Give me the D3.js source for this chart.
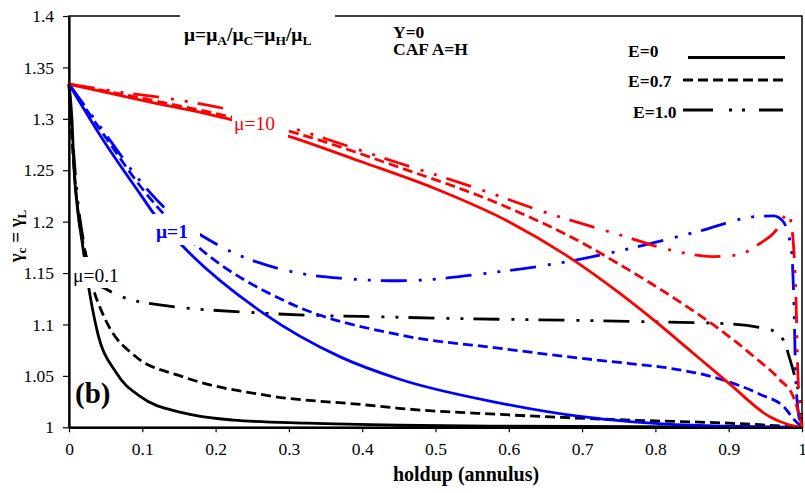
<!DOCTYPE html>
<html>
<head>
<meta charset="utf-8">
<script src="https://cdn.jsdelivr.net/npm/d3@7"></script>
<style>
  body { margin: 0; background: #fff; }
  text { font-family: "Liberation Serif", "Times New Roman", serif; }
</style>
</head>
<body>
<svg id="chart" width="805" height="493"></svg>
<script>
// tick values for both axes
var xTicks = [0, 0.1, 0.2, 0.3, 0.4, 0.5, 0.6, 0.7, 0.8, 0.9, 1];
var yTicks = [1, 1.05, 1.1, 1.15, 1.2, 1.25, 1.3, 1.35, 1.4];

// mu = 0.1 (black) as [holdup, gamma]
var mu01_E0 = [[0,1.3337],[0.004,1.30],[0.007,1.25],[0.012,1.21],[0.018,1.18],[0.026,1.14],[0.038,1.095],[0.065,1.0525],[0.097,1.030],[0.156,1.014],[0.224,1.007],[0.325,1.004],[0.45,1.002],[0.6,1.001],[1,1.0]];
var mu01_E07 = [[0,1.3337],[0.006,1.26],[0.014,1.20],[0.024,1.165],[0.033,1.1355],[0.045,1.112],[0.056,1.096],[0.088,1.0705],[0.156,1.049],[0.27,1.031],[0.406,1.0217],[0.45,1.0185],[0.588,1.0125],[0.765,1.007],[0.9,1.004],[1,1.0]];
var mu01_E10 = [[0,1.3337],[0.005,1.28],[0.012,1.22],[0.02,1.18],[0.03,1.145],[0.053,1.1335],[0.097,1.122],[0.265,1.111],[0.45,1.107],[0.765,1.103],[0.888,1.101],[0.956,1.095],[0.9745,1.085],[0.9836,1.066],[0.99,1.05],[0.995,1.035],[0.998,1.02],[1,1.0]];

// mu = 1 (blue)
var mu1_E0 = [[0,1.3337],[0.047,1.279],[0.097,1.227],[0.117,1.2065],[0.156,1.1755],[0.265,1.111],[0.37,1.0685],[0.45,1.047],[0.588,1.0236],[0.70,1.0103],[0.765,1.0055],[0.85,1.002],[1,1.0]];
var mu1_E07 = [[0,1.3337],[0.05,1.282],[0.1,1.232],[0.126,1.21],[0.176,1.1755],[0.30,1.121],[0.45,1.09],[0.588,1.0768],[0.70,1.067],[0.765,1.062],[0.82,1.0574],[0.888,1.047],[0.943,1.032],[0.975,1.02],[0.99,1.007],[1,1.0]];
var mu1_E10 = [[0,1.3337],[0.05,1.285],[0.1,1.237],[0.131,1.213],[0.199,1.179],[0.306,1.151],[0.37,1.145],[0.45,1.1425],[0.588,1.1514],[0.679,1.161],[0.7476,1.171],[0.856,1.19],[0.938,1.205],[0.961,1.2056],[0.9745,1.20],[0.981,1.188],[0.986,1.17],[0.989,1.12],[0.991,1.06],[0.994,1.02],[1,1.0]];

// mu = 10 (red)
var mu10_E0 = [[0,1.3337],[0.1,1.318],[0.222,1.299],[0.3,1.283],[0.4,1.258],[0.5,1.232],[0.6,1.200],[0.679,1.167],[0.752,1.13],[0.80,1.103],[0.85,1.073],[0.9,1.043],[0.956,1.0103],[0.98,1.003],[1,1.0]];
var mu10_E07 = [[0,1.3337],[0.1,1.32],[0.22,1.302],[0.3,1.288],[0.45,1.253],[0.588,1.217],[0.701,1.179],[0.752,1.158],[0.829,1.124],[0.888,1.095],[0.934,1.069],[0.97,1.046],[0.988,1.03],[0.995,1.015],[1,1.0]];
var mu10_E10 = [[0,1.3337],[0.065,1.3265],[0.151,1.318],[0.22,1.3087],[0.3,1.292],[0.45,1.257],[0.55,1.234],[0.65,1.209],[0.752,1.187],[0.82,1.1725],[0.879,1.166],[0.911,1.1676],[0.943,1.179],[0.965,1.192],[0.976,1.205],[0.981,1.208],[0.986,1.195],[0.989,1.17],[0.992,1.12],[0.994,1.06],[0.997,1.02],[1,1.0]];

var series = [
  {data: mu01_E0, mu: "0.1", e: "E0"}, {data: mu01_E07, mu: "0.1", e: "E07"}, {data: mu01_E10, mu: "0.1", e: "E10"},
  {data: mu1_E0, mu: "1", e: "E0"}, {data: mu1_E07, mu: "1", e: "E07"}, {data: mu1_E10, mu: "1", e: "E10"},
  {data: mu10_E0, mu: "10", e: "E0"}, {data: mu10_E07, mu: "10", e: "E07"}, {data: mu10_E10, mu: "10", e: "E10"}
];

var colors = {"0.1": "#000000", "1": "#0000ff", "10": "#ff0000"};
var dashes = {"E0": null, "E07": "10,5", "E10": "26,12,3,11,3,10"};

drawChart();

function drawChart() {
  var svg = d3.select("#chart");
  var plotLeft = 69, plotRight = 802, plotTop = 16, plotBottom = 427.3;

  var x = d3.scaleLinear().domain([0, 1]).range([plotLeft, plotRight]);
  var y = d3.scaleLinear().domain([1, 1.4]).range([plotBottom, plotTop]);

  // frame
  svg.append("rect")
     .attr("x", plotLeft).attr("y", plotTop)
     .attr("width", plotRight - plotLeft).attr("height", plotBottom - plotTop)
     .attr("fill", "none").attr("stroke", "#000").attr("stroke-width", 1.5);

  // curves
  var line = d3.line()
               .x(function(d) { return x(d[0]); })
               .y(function(d) { return y(d[1]); })
               .curve(d3.curveMonotoneX);

  svg.append("g")
     .selectAll("path")
     .data(series)
     .enter()
     .append("path")
     .attr("d", function(d) { return line(d.data); })
     .attr("fill", "none")
     .attr("stroke", function(d) { return colors[d.mu]; })
     .attr("stroke-width", 2.8)
     .attr("stroke-dasharray", function(d) { return dashes[d.e]; });

  // axes
  var xAxis = svg.append("g")
     .attr("transform", "translate(0," + plotBottom + ")")
     .call(d3.axisBottom(x).tickValues(xTicks).tickFormat(d3.format("~g"))
             .tickSizeInner(5).tickSizeOuter(0).tickPadding(10));
  var yAxis = svg.append("g")
     .attr("transform", "translate(" + plotLeft + ",0)")
     .call(d3.axisLeft(y).tickValues(yTicks).tickFormat(d3.format("~g"))
             .tickSizeInner(6).tickSizeOuter(0).tickPadding(9));

  [xAxis, yAxis].forEach(function(a) {
    a.select(".domain").attr("stroke", "#000").attr("stroke-width", 2.2);
    a.selectAll(".tick line").attr("stroke", "#000").attr("stroke-width", 1.2);
    a.selectAll(".tick text")
     .style("font-family", "'Liberation Serif', 'Times New Roman', serif")
     .style("font-size", "17.5px").attr("fill", "#000");
  });

  // axis titles
  svg.append("text")
     .attr("x", 466).attr("y", 481)
     .attr("text-anchor", "middle")
     .style("font-size", "20px").style("font-weight", "bold")
     .text("holdup (annulus)");

  var yl = svg.append("text")
     .attr("transform", "translate(22,236) rotate(-90)")
     .attr("text-anchor", "middle")
     .style("font-size", "19px").style("font-weight", "bold");
  yl.append("tspan").text("γ");
  yl.append("tspan").attr("dy", 4).style("font-size", "13px").text("c");
  yl.append("tspan").attr("dy", -4).text(" = γ");
  yl.append("tspan").attr("dy", 4).style("font-size", "13px").text("L");

  // title box (hides part of the top frame)
  svg.append("rect").attr("x", 180).attr("y", 8).attr("width", 155).attr("height", 40).attr("fill", "#fff");
  var t = svg.append("text").attr("x", 184).attr("y", 41)
             .style("font-size", "19.5px").style("font-weight", "bold");
  var parts = [["μ=μ", "A"], ["/μ", "C"], ["=μ", "H"], ["/μ", "L"]];
  parts.forEach(function(p, i) {
    t.append("tspan").attr("dy", i === 0 ? 0 : -4).text(p[0]);
    t.append("tspan").attr("dy", 4).style("font-size", "13.5px").text(p[1]);
  });

  svg.append("text").attr("x", 393).attr("y", 38)
     .style("font-size", "17.5px").style("font-weight", "bold").text("Y=0");
  svg.append("text").attr("x", 393).attr("y", 55)
     .style("font-size", "17.5px").style("font-weight", "bold").text("CAF A=H");

  // legend
  var legendRows = [
    {label: "E=0", tx: 628, ty: 57, x1: 688, x2: 785, ly: 57.5, dash: null},
    {label: "E=0.7", tx: 628, ty: 87, x1: 683, x2: 783, ly: 80, dash: "10,5"},
    {label: "E=1.0", tx: 633, ty: 118, x1: 683, x2: 783, ly: 110, dash: "30,16,3,10,3,14,30"}
  ];
  legendRows.forEach(function(r) {
    svg.append("text").attr("x", r.tx).attr("y", r.ty)
       .style("font-size", "17.5px").style("font-weight", "bold").text(r.label);
    svg.append("line").attr("x1", r.x1).attr("x2", r.x2)
       .attr("y1", r.ly).attr("y2", r.ly)
       .attr("stroke", "#000").attr("stroke-width", 3)
       .attr("stroke-dasharray", r.dash);
  });

  // curve labels on white boxes
  var curveLabels = [
    {text: "μ=10", color: "#ff0000", weight: "normal", bx: 232, by: 108, bw: 56, bh: 30, tx: 234, ty: 130},
    {text: "μ=1", color: "#0000ff", weight: "bold", bx: 148, by: 214, bw: 52, bh: 31, tx: 156, ty: 238},
    {text: "μ=0.1", color: "#000000", weight: "normal", bx: 72, by: 257, bw: 52, bh: 31, tx: 73, ty: 282}
  ];
  curveLabels.forEach(function(c) {
    svg.append("rect").attr("x", c.bx).attr("y", c.by).attr("width", c.bw).attr("height", c.bh).attr("fill", "#fff");
    svg.append("text").attr("x", c.tx).attr("y", c.ty)
       .attr("fill", c.color).style("font-size", "19.5px").style("font-weight", c.weight)
       .text(c.text);
  });

  svg.append("text").attr("x", 75).attr("y", 403)
     .style("font-size", "29px").style("font-weight", "bold").text("(b)");
}
</script>
</body>
</html>
